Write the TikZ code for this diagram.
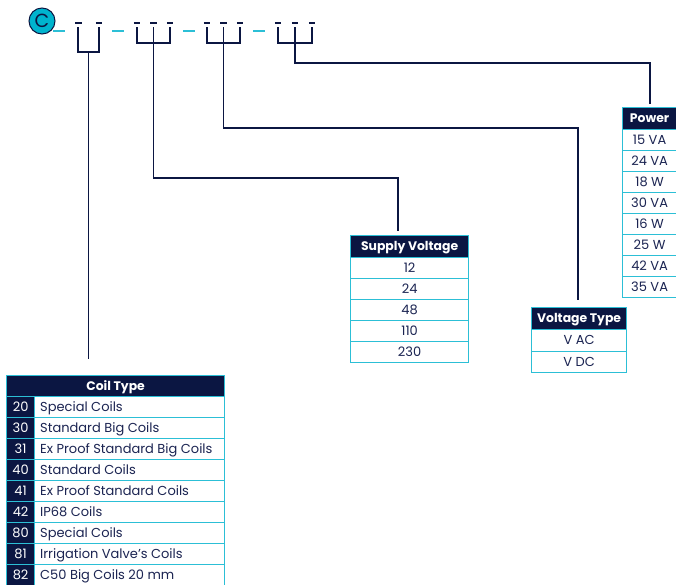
\documentclass[tikz,border=0pt]{standalone}
\usepackage{fontspec}
\setmainfont{Poppins}
\definecolor{navy}{HTML}{0B1642}
\definecolor{cy}{HTML}{2CBFD6}
\definecolor{cfill}{HTML}{00B4CE}
\definecolor{txt}{HTML}{1B2452}
\tikzset{
  conn/.style={draw=navy, line width=1.8pt},
  brk/.style={draw=navy, line width=1.8pt},
  cydash/.style={draw=cy, line width=2pt},
  nvdash/.style={draw=navy, line width=2pt},
  hdr/.style={draw=cy, fill=navy, line width=1.2pt, text=white, anchor=north west, inner sep=0pt, text height=8.6pt, text depth=0pt, font=\fontsize{12.4}{13}\selectfont\bfseries},
  cell/.style={draw=cy, fill=white, line width=1.2pt, text=txt, anchor=north west, inner sep=0pt, text height=9pt, text depth=0pt, font=\fontsize{13}{14}\selectfont},
  numcell/.style={cell, fill=navy, text=white},
  lbl/.style={text=txt, anchor=west, inner sep=0pt, text height=9pt, text depth=0pt, font=\fontsize{13}{14}\selectfont},
}
\begin{document}
\begin{tikzpicture}[x=1pt,y=-1pt]
\useasboundingbox (0,0) rectangle (676,584);
% logo
\node[circle, fill=cfill, draw=navy, line width=1pt, minimum size=26pt, inner sep=0pt,
      font=\fontsize{19}{19}\selectfont, text=navy] (logo) at (42,21) {C};
% cyan separators
\foreach \a/\b in {53/65,112/124,183/195,253/265} \draw[cydash] (\a,31) -- (\b,31);
% navy position dashes
\foreach \x in {78.5,99,137,153.5,170,207,223.5,240,278,295,312} \draw[nvdash] (\x-3.2,22.5) -- (\x+3.2,22.5);
% brackets
\draw[brk] (78,27) -- (78,52) -- (99,52) -- (99,27);
\draw[brk] (137,27) -- (137,43) -- (170,43) -- (170,27);
\draw[brk] (207,27) -- (207,43) -- (240,43) -- (240,27);
\draw[brk] (278,27) -- (278,43) -- (312,43) -- (312,27);
\coordinate (s1) at (88.5,52);
\coordinate (s2) at (153.5,27);
\coordinate (s3) at (223.5,27);
\coordinate (s4) at (295,27);
\coordinate (e1) at (88.5,359);
\coordinate (e2) at (398,231);
\coordinate (e3) at (578,300);
\coordinate (e4) at (650,104);

% Supply Voltage table
\node[hdr, minimum width=118pt, minimum height=22pt] (svh) at (350,235) {Supply Voltage};
\foreach \t [count=\i from 0] in {12,24,48,110,230}
  \node[cell, minimum width=118pt, minimum height=21pt] (sv\i) at (350,257+21*\i) {\t};

% Power table
\node[hdr, minimum width=54pt, minimum height=22pt] (pwh) at (622,107) {Power};
\foreach \t [count=\i from 0] in {15 VA,24 VA,18 W,30 VA,16 W,25 W,42 VA,35 VA}
  \node[cell, minimum width=54pt, minimum height=21pt] (pw\i) at (622,129+21*\i) {\t};

% Voltage Type table
\node[hdr, minimum width=95pt, minimum height=22pt] (vth) at (531,307) {Voltage Type};
\node[cell, minimum width=95pt, minimum height=21.5pt] (vt0) at (531,329) {V AC};
\node[cell, minimum width=95pt, minimum height=21.5pt] (vt1) at (531,350.5) {V DC};

% Coil Type table
\node[hdr, minimum width=218pt, minimum height=21pt] (cth) at (6,375) {Coil Type};
\foreach \n/\t [count=\i from 0] in {20/Special Coils,30/Standard Big Coils,31/Ex Proof Standard Big Coils,40/Standard Coils,41/Ex Proof Standard Coils,42/IP68 Coils,80/Special Coils,81/Irrigation Valve’s Coils,82/C50 Big Coils 20 mm}{
  \node[numcell, minimum width=28pt, minimum height=21pt] (cn\i) at (6,396+21*\i) {\n};
  \node[cell, minimum width=190pt, minimum height=21pt] (ct\i) at (34,396+21*\i) {};
  \node[lbl] (ctl\i) at ([xshift=6pt]ct\i.west) {\t};
}

% connectors
\draw[conn] (s1) -- (e1);
\draw[conn] (s2) |- (e2 |- 0,178) -- (e2);
\draw[conn] (s3) |- (e3 |- 0,128) -- (e3);
\draw[conn] (s4) |- (e4 |- 0,63) -- (e4);
\end{tikzpicture}
\end{document}
